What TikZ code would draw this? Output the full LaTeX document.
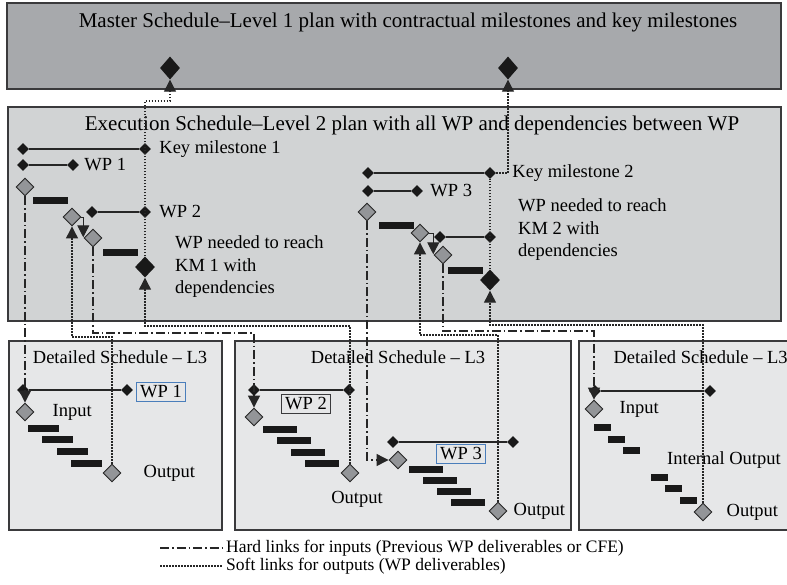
\documentclass[tikz,border=0pt]{standalone}
\usepackage{fontspec}
\setmainfont{Liberation Serif}
\usetikzlibrary{positioning, arrows.meta, shapes.geometric}

\definecolor{masterfill}{HTML}{A7A9AC}
\definecolor{execfill}{HTML}{D1D3D4}
\definecolor{detailfill}{HTML}{E6E7E8}
\definecolor{gatefill}{HTML}{939598}
\definecolor{edgegray}{HTML}{3A3A3C}
\definecolor{labelblue}{HTML}{4A7EBB}

\begin{document}
\begin{tikzpicture}[
        x=1pt, y=-1pt,
        font=\fontsize{18.5}{22.5}\selectfont,
        >={Triangle[width=12pt,length=12pt]},
        panel/.style={draw=edgegray, line width=1.4pt},
        title/.style={font=\fontsize{21}{24}\selectfont},
        ms/.style={diamond, fill=black!90, inner sep=0pt, minimum width=12pt, minimum height=12pt},
        keyms/.style={diamond, fill=black!90, inner sep=0pt, minimum width=20pt, minimum height=21pt},
        gate/.style={diamond, draw=black!85, fill=gatefill, line width=0.9pt, inner sep=0pt, minimum width=18pt, minimum height=18pt},
        taskbar/.style={rectangle, fill=black!90, inner sep=0pt, minimum width=#1, minimum height=7pt},
        taskbar/.default=32pt,
        wpline/.style={line width=2pt, black!85},
        wplabel/.style={draw=#1, line width=1pt, fill=detailfill, inner xsep=3.5pt, inner ysep=3pt},
        soft/.style={->, line width=1.2pt, black!85, dash pattern=on 1.5pt off 1.5pt},
        hard/.style={->, line width=1.2pt, black!85, dash pattern=on 9pt off 3pt on 1.5pt off 3pt},
        dep/.style={->, line width=1pt, black!85},
        txt/.style={inner sep=2pt}
    ]
    \useasboundingbox (0,0) rectangle (787,584);
    \clip (0,0) rectangle (787,584);

    % panels
    \draw[panel, fill=masterfill] (7,3) rectangle (781,89);
    \draw[panel, fill=execfill] (8,107) rectangle (781,321);
    \draw[panel, fill=detailfill] (9,341) rectangle (222,530);
    \draw[panel, fill=detailfill] (235,341) rectangle (571,530);
    \draw[panel, fill=detailfill] (579,341) rectangle (795,530);

    \node[title] (mtitle) at (408,22) {Master Schedule–Level 1 plan with contractual milestones and key milestones};
    \node[title] (etitle) at (412,125) {Execution Schedule–Level 2 plan with all WP and dependencies between WP};
    \node (d1title) at (120,357) {Detailed Schedule – L3};
    \node (d2title) at (398,357) {Detailed Schedule – L3};
    \node[anchor=west] (d3title) at (610,357) {Detailed Schedule – L3};

    % master milestones
    \node[keyms, minimum height=23pt] (m1) at (170,68) {};
    \node[keyms, minimum height=23pt] (m2) at (508,68) {};

    % level 2, key milestone 1
    \node[ms] (km1a) at (23,149) {};
    \node[ms] (km1b) at (145,149) {};
    \node[txt, right=6pt of km1b] (km1l) {Key milestone 1};
    \node[ms] (wp1a) at (23,165) {};
    \node[ms] (wp1b) at (73,165) {};
    \node[txt, right=3pt of wp1b] (wp1l) {WP 1};
    \node[gate] (g1) at (25,187) {};
    \node[taskbar=35pt] (t1) at (50,200) {};
    \node[gate] (g2) at (72,217) {};
    \node[ms] (wp2a) at (92,212) {};
    \node[ms] (wp2b) at (145,212) {};
    \node[txt, right=6pt of wp2b] (wp2l) {WP 2};
    \node[gate] (g3) at (93,238) {};
    \node[taskbar=35pt] (t2) at (120,252) {};
    \node[keyms] (km1) at (145,267) {};
    \node[txt, align=left, anchor=west] (km1n) at (173,267) {WP needed to reach\\KM 1 with\\dependencies};

    % level 2, key milestone 2
    \node[ms] (km2a) at (368,173) {};
    \node[ms] (km2b) at (490,173) {};
    \node[txt, right=14pt of km2b] (km2l) {Key milestone 2};
    \node[ms] (wp3a) at (368,191) {};
    \node[ms] (wp3b) at (417,191) {};
    \node[txt, right=5pt of wp3b] (wp3l) {WP 3};
    \node[gate] (g4) at (367,212) {};
    \node[taskbar=35pt] (t3) at (396,225) {};
    \node[gate] (g5) at (420,233) {};
    \node[ms] (wp4a) at (440,237) {};
    \node[ms] (wp4b) at (490,237) {};
    \node[gate] (g6) at (443,255) {};
    \node[taskbar=35pt] (t4) at (465,270) {};
    \node[keyms] (km2) at (490,280) {};
    \node[txt, align=left, anchor=west] (km2n) at (516,230) {WP needed to reach\\KM 2 with\\dependencies};

    \draw[wpline] (km1a) -- (km1b);
    \draw[wpline] (wp1a) -- (wp1b);
    \draw[wpline] (wp2a) -- (wp2b);
    \draw[wpline] (km2a) -- (km2b);
    \draw[wpline] (wp3a) -- (wp3b);
    \draw[wpline] (wp4a) -- (wp4b);

    % detailed schedule 1
    \node[ms] (b1a) at (23,390) {};
    \node[ms] (b1b) at (127,390) {};
    \node[wplabel=labelblue] (lwp1) at (161,392) {WP 1};
    \node[gate] (i1) at (25,412) {};
    \node[txt, right=16pt of i1] (i1l) {Input};
    \foreach \x/\y [count=\i] in {43.5/428, 57.5/439, 72.5/451, 86.5/463}
        \node[taskbar=31pt] (d1t\i) at (\x,\y) {};
    \node[gate] (o1) at (112,473) {};
    \node[txt, right=20pt of o1] (o1l) {Output};

    % detailed schedule 2
    \node[ms] (b2a) at (254,390) {};
    \node[ms] (b2b) at (349,390) {};
    \node[wplabel=edgegray] (lwp2) at (306,404) {WP 2};
    \node[gate] (i2) at (254,417) {};
    \foreach \x/\y [count=\i] in {280/429, 294/440, 308/452, 322/463}
        \node[taskbar=34pt] (d2t\i) at (\x,\y) {};
    \node[gate] (o2) at (350,473) {};
    \node[txt, below=7pt of o2, xshift=7pt] (o2l) {Output};
    \node[ms] (b3a) at (393,442) {};
    \node[ms] (b3b) at (513,442) {};
    \node[wplabel=labelblue] (lwp3) at (461,454) {WP 3};
    \node[gate] (i3) at (398,460) {};
    \foreach \x/\y [count=\i] in {426/469, 440/480, 454/491, 468/502}
        \node[taskbar=34pt] (d3t\i) at (\x,\y) {};
    \node[gate] (o3) at (498,511) {};
    \node[txt, right=4pt of o3] (o3l) {Output};

    % detailed schedule 3
    \node[ms] (b4a) at (595,391) {};
    \node[ms] (b4b) at (710,391) {};
    \node[gate] (i4) at (594,409) {};
    \node[txt, right=14pt of i4] (i4l) {Input};
    \foreach \x/\y [count=\i] in {602.5/427, 616.5/439, 631.5/450, 659.5/477, 673.5/488, 688.5/500}
        \node[taskbar=17pt] (d4t\i) at (\x,\y) {};
    \node[txt, anchor=west] (intl) at (665,460) {Internal Output};
    \node[gate] (o4) at (703,512) {};
    \node[txt, right=12pt of o4] (o4l) {Output};

    \draw[wpline] (b1a) -- (b1b);
    \draw[wpline] (b2a) -- (b2b);
    \draw[wpline] (b3a) -- (b3b);
    \draw[wpline] (b4a) -- (b4b);

    % soft links (outputs)
    \coordinate (sb1) at (112,337);
    \coordinate (sb2) at (350,326);
    \coordinate (mb1) at (145,101);
    \coordinate (sb3) at (498,335);
    \coordinate (sb4) at (703,325);
    \draw[soft] (o1.north) -- (sb1) -| (g2.south);
    \draw[soft] (o2.north) -- (sb2) -| (km1.south);
    \draw[soft] (km1.north) -- (mb1) -| (m1.south);
    \draw[soft] (o3.north) -- (sb3) -| (g5.south);
    \draw[soft] (o4.north) -- (sb4) -| (km2.south);
    \draw[soft, -] (km2.north) -- (km2b);
    \draw[soft] (km2b) -| (m2.south);

    % hard links (inputs)
    \coordinate (hb2) at (93,333);
    \coordinate (hb4) at (443,331);
    \draw[hard] (g1.south) -- (i1.north);
    \draw[hard] (g3.south) -- (hb2) -| (i2.north);
    \draw[hard] (g4.south) |- (i3.west);
    \draw[hard] (g6.south) -- (hb4) -| (i4.north);

    % dependencies
    \draw[dep] (g2.east) -| ([xshift=-5pt, yshift=-4pt]g3.north west);
    \draw[dep] (g5.east) -| ([xshift=-5pt, yshift=-4pt]g6.north west);

    % legend
    \coordinate (lh1) at (160,548);
    \coordinate (lh2) at (222,548);
    \coordinate (ls1) at (160,566);
    \coordinate (ls2) at (222,566);
    \draw[hard, -] (lh1) -- (lh2);
    \draw[soft, -] (ls1) -- (ls2);
    \node[txt, right=2pt of lh2, font=\fontsize{17.5}{20}\selectfont] (lhl) {Hard links for inputs (Previous WP deliverables or CFE)};
    \node[txt, right=2pt of ls2, font=\fontsize{17.5}{20}\selectfont] (lsl) {Soft links for outputs (WP deliverables)};
\end{tikzpicture}
\end{document}
